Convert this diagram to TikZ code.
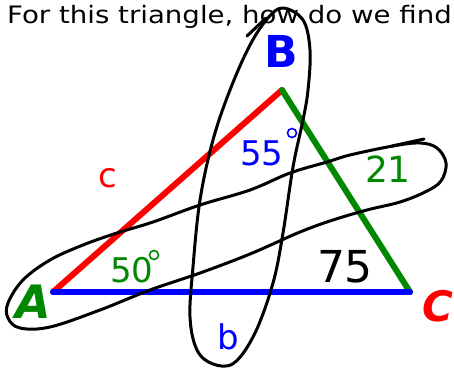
\documentclass[tikz,border=0pt]{standalone}
\usepackage{fontspec}
\setmainfont{DejaVu Sans}
\definecolor{myblue}{RGB}{0,0,255}
\definecolor{myred}{RGB}{255,0,0}
\definecolor{mygreen}{RGB}{0,136,0}
\tikzset{
  side/.style={line width=6pt, line cap=round},
  loop/.style={line width=3pt, black, line join=round, line cap=round},
  lbl/.style={inner sep=0pt, anchor=center},
  deg/.style={circle, draw, line width=1.6pt, minimum size=9pt, inner sep=0pt},
}
\newcommand{\fs}[1]{\fontsize{#1}{#1}\selectfont}
\begin{document}
\begin{tikzpicture}[x=1pt,y=-1pt]
\useasboundingbox (0,0) rectangle (454,369);
% title
\node[lbl, anchor=base west] (title) at (7,24) {\scalebox{1.15}[1]{\fs{24}For this triangle, how do we find}};
% vertices
\coordinate (A) at (53,292);
\coordinate (B) at (282,90);
\coordinate (C) at (410,292);
\draw[side, myred] (A) -- (B);
\draw[side, mygreen] (B) -- (C);
\draw[side, myblue] (A) -- (C);
% loops
\draw[loop] plot[smooth cycle, tension=0.6] coordinates {
  (283,8) (303,20) (310,50) (308,90) (303,120) (293,167) (283,233) (273,283)
  (255,333) (234,363) (213,364) (197,350) (190,317) (193,267) (200,200)
  (213,140) (230,90) (250,45) (268,18)};
\coordinate (t1) at (247,36);
\coordinate (t2) at (266,18);
\draw[loop] (t1) -- (t2);
\draw[loop] plot[smooth cycle, tension=0.6] coordinates {
  (8,303) (23,280) (50,260) (83,245) (117,233) (153,222) (200,205) (250,190)
  (290,173) (327,162) (350,155) (393,146) (420,143) (437,148) (446,163)
  (441,181) (425,192) (400,202) (367,210) (333,220) (300,232) (250,254)
  (200,273) (150,290) (100,310) (50,327) (20,328) (8,318)};
\coordinate (s1) at (392,146);
\coordinate (s2) at (424,139);
\draw[loop] (s1) -- (s2);
% labels
\node[lbl, text=myblue] (lB) at (281,51) {\fs{44}\bfseries B};
\node[lbl, text=mygreen] (lA) at (33,302) {\fs{46}\bfseries\itshape A};
\node[lbl, text=myred] (lC) at (438,306) {\fs{42}\bfseries\itshape C};
\node[lbl, text=myred] (lc) at (108,178) {\fs{34}c};
\node[lbl, text=myblue] (lb) at (228,337) {\fs{34}b};
\node[lbl, text=myblue] (l55) at (262,153) {\fs{34}55};
\node[deg, myblue] (d55) at (292,133) {};
\node[lbl, text=mygreen] (l21) at (388,169) {\fs{36}21};
\node[lbl, text=mygreen] (l50) at (132,270) {\fs{34}50};
\node[deg, mygreen] (d50) at (154,255) {};
\node[lbl, text=black] (l75) at (345,267) {\fs{44}75};
\end{tikzpicture}
\end{document}
